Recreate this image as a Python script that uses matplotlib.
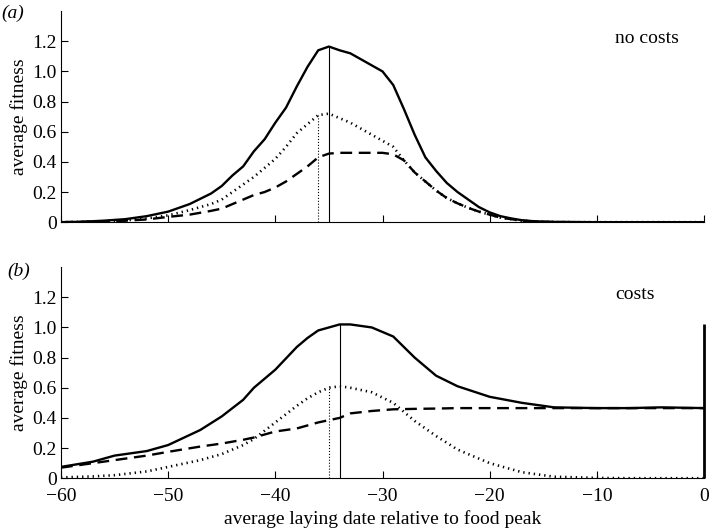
import numpy as np
import matplotlib
matplotlib.use('Agg')
import matplotlib.pyplot as plt

plt.rcParams['font.family'] = ['Liberation Serif', 'DejaVu Serif']

# panel (a): no costs
date_a = [-60, -58, -56, -54, -52, -50, -48, -46, -45, -44, -43, -42, -41, -40,
          -39, -38, -37, -36, -35, -34, -33, -32, -31, -30, -29, -28, -27, -26,
          -25, -24, -23, -22, -21, -20, -19, -18, -17, -16, -15, -14, -12, -10,
          -5, 0]
solid_a = [0.0, 0.003, 0.01, 0.02, 0.04, 0.07, 0.12, 0.19, 0.24, 0.31, 0.37,
           0.47, 0.55, 0.66, 0.76, 0.90, 1.03, 1.14, 1.165, 1.14, 1.12, 1.08,
           1.04, 1.0, 0.91, 0.75, 0.58, 0.43, 0.34, 0.26, 0.20, 0.15, 0.10,
           0.065, 0.04, 0.025, 0.013, 0.007, 0.004, 0.002, 0.001, 0.0, 0.0, 0.0]
dotted_a = [0.0, 0.002, 0.006, 0.012, 0.025, 0.045, 0.08, 0.12, 0.15, 0.2,
            0.25, 0.3, 0.36, 0.42, 0.5, 0.59, 0.65, 0.71, 0.72, 0.69, 0.66,
            0.62, 0.58, 0.54, 0.5, 0.41, 0.33, 0.27, 0.21, 0.16, 0.125, 0.095,
            0.07, 0.05, 0.03, 0.02, 0.01, 0.005, 0.002, 0.001, 0.0, 0.0, 0.0,
            0.0]
dashed_a = [0.0, 0.002, 0.005, 0.01, 0.018, 0.035, 0.05, 0.075, 0.09, 0.12,
            0.15, 0.18, 0.2, 0.23, 0.27, 0.32, 0.37, 0.43, 0.455, 0.46, 0.46,
            0.46, 0.46, 0.46, 0.45, 0.41, 0.33, 0.27, 0.21, 0.16, 0.125, 0.095,
            0.07, 0.05, 0.03, 0.02, 0.01, 0.005, 0.002, 0.001, 0.0, 0.0, 0.0,
            0.0]
opt_a_solid = (-35.0, 1.165)
opt_a_dotted = (-36.0, 0.71)

# panel (b): costs
date_b = [-60, -57, -55, -52, -50, -47, -45, -43, -42, -40, -38, -37, -36, -35,
          -34, -33, -31, -29, -27, -25, -23, -20, -17, -14, -10, -7, -4, 0]
solid_b = [0.075, 0.11, 0.15, 0.18, 0.22, 0.32, 0.41, 0.52, 0.6, 0.72, 0.87,
           0.93, 0.98, 1.0, 1.02, 1.02, 1.0, 0.94, 0.80, 0.68, 0.61, 0.54,
           0.50, 0.47, 0.465, 0.465, 0.47, 0.465]
dotted_b = [0.005, 0.012, 0.02, 0.045, 0.075, 0.12, 0.16, 0.22, 0.26, 0.37,
            0.48, 0.53, 0.57, 0.60, 0.61, 0.60, 0.57, 0.50, 0.38, 0.28, 0.19,
            0.10, 0.04, 0.01, 0.002, 0.0, 0.0, 0.0]
dashed_b = [0.07, 0.1, 0.12, 0.15, 0.175, 0.21, 0.23, 0.255, 0.27, 0.31, 0.33,
            0.35, 0.37, 0.385, 0.40, 0.43, 0.446, 0.457, 0.46, 0.462, 0.465,
            0.465, 0.465, 0.465, 0.465, 0.465, 0.465, 0.465]
opt_b_solid = (-34.0, 1.02)
opt_b_dotted = (-35.0, 0.61)
edge_b = (0.0, 1.02)

xticks = [-60, -50, -40, -30, -20, -10, 0]
yticks = [0, 0.2, 0.4, 0.6, 0.8, 1.0, 1.2]
yticklabels = ['0', '0.2', '0.4', '0.6', '0.8', '1.0', '1.2']

FS = 14


def style_axes(ax, show_xlabels):
    ax.set_xlim(-60, 0)
    ax.set_ylim(0, 1.4)
    ax.spines['top'].set_visible(False)
    ax.spines['right'].set_visible(False)
    ax.spines['left'].set_linewidth(0.8)
    ax.spines['bottom'].set_linewidth(0.8)
    ax.set_xticks(xticks)
    ax.set_yticks(yticks)
    ax.set_yticklabels(yticklabels)
    ax.tick_params(direction='in', length=5, width=0.8, labelsize=FS)
    ax.tick_params(axis='y', pad=3)
    ax.tick_params(axis='x', pad=7)
    if show_xlabels:
        ax.set_xticklabels(['\u221260', '\u221250', '\u221240', '\u221230',
                            '\u221220', '\u221210', '0'])
    else:
        ax.set_xticklabels([])
    ax.set_ylabel('average fitness', fontsize=FS, labelpad=3)


def draw(ax, date, solid, dotted, dashed):
    ax.plot(date, solid, '-', color='black', lw=1.7)
    ax.plot(date, dotted, color='black', lw=1.9, dashes=(0.5, 1.5))
    ax.plot(date, dashed, color='black', lw=1.7, dashes=(5, 2.8))


fig = plt.figure(figsize=(7.09, 5.29), dpi=100)
ax1 = fig.add_axes([0.086, 0.580, 0.907, 0.399])
ax2 = fig.add_axes([0.086, 0.096, 0.907, 0.399])

draw(ax1, date_a, solid_a, dotted_a, dashed_a)
ax1.vlines(opt_a_solid[0], 0, opt_a_solid[1], color='black', lw=0.8)
ax1.vlines(opt_a_dotted[0], 0, opt_a_dotted[1], color='black', lw=0.8,
           linestyles='dotted')
style_axes(ax1, False)
ax1.text(0.862, 0.87, 'no costs', transform=ax1.transAxes, fontsize=FS,
         ha='left', va='center')

draw(ax2, date_b, solid_b, dotted_b, dashed_b)
ax2.vlines(opt_b_solid[0], 0, opt_b_solid[1], color='black', lw=0.8)
ax2.vlines(opt_b_dotted[0], 0, opt_b_dotted[1], color='black', lw=0.8,
           linestyles='dotted')
ax2.vlines(edge_b[0], 0, edge_b[1], color='black', lw=2.0, clip_on=False)
style_axes(ax2, True)
ax2.set_xlabel('average laying date relative to food peak', fontsize=FS,
               labelpad=4)
ax2.text(0.862, 0.87, 'costs', transform=ax2.transAxes, fontsize=FS,
         ha='left', va='center')

fig.text(0.002, 0.975, '(a)', fontsize=FS, style='italic', ha='left',
         va='center')
fig.text(0.011, 0.487, '(b)', fontsize=FS, style='italic', ha='left',
         va='center')

fig.savefig('out.png', dpi=100)
